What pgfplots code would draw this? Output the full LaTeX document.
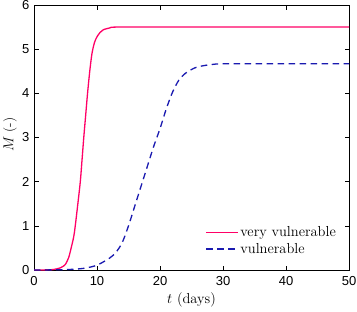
\documentclass[border=0pt]{standalone}
\usepackage{pgfplots}
\pgfplotsset{compat=1.18}
\usepackage{fontspec}
\newfontfamily\tickfont{Liberation Sans}
\definecolor{vred}{HTML}{FF0066}
\definecolor{vblue}{HTML}{1A1AB0}
\begin{document}
\begin{tikzpicture}
\begin{axis}[
  name=ax,
  scale only axis,
  width=315pt, height=265pt,
  xmin=0, xmax=50, ymin=0, ymax=6,
  xtick={0,10,20,30,40,50},
  ytick={0,1,2,3,4,5,6},
  tick align=inside,
  major tick length=4.5pt,
  axis line style={line width=0.8pt},
  every tick/.style={black, line width=0.6pt},
  ticklabel style={font=\tickfont\fontsize{13}{15}\selectfont},
  xticklabel style={yshift=-3pt},
  yticklabel style={xshift=-1pt},
  /pgf/number format/assume math mode=true,
  xlabel={$t$ (days)},
  ylabel={$M$ (-)},
  xlabel style={font=\fontsize{14.5}{16}\selectfont, at={(axis description cs:0.5,0)}, anchor=north, inner sep=0pt, yshift=-22pt},
  ylabel style={font=\fontsize{13.5}{16}\selectfont, at={(axis description cs:-0.0984,0.51)}, anchor=north, inner sep=0pt},
  legend style={draw=none, fill=none, at={(axis description cs:0.962,0.053)}, anchor=south east,
    font=\fontsize{14.5}{16}\selectfont, row sep=3pt, inner sep=0pt, nodes={inner sep=1pt}},
  legend cell align=left,
  legend image code/.code={\draw[#1,line width=1.8pt] plot coordinates {(0pt,0pt) (32pt,0pt)};},
]
\addplot[vred, line width=1.3pt, smooth] coordinates {
(0,0) (2,0.003) (3,0.01) (3.6,0.025) (4.2,0.05) (4.7,0.09) (5,0.13) (5.5,0.28) (5.9,0.5) (6.3,0.75) (6.55,1.0) (7,1.55) (7.35,2.0) (7.6,2.45) (7.9,3.0) (8.2,3.5) (8.5,4.0) (8.85,4.5) (9.2,4.9) (9.6,5.15) (10,5.28) (10.5,5.38) (11,5.44) (12,5.48) (13,5.5) (20,5.5) (50,5.5)
};
\addlegendentry{very vulnerable}
\addplot[vblue, line width=1.3pt, dash pattern=on 6.5pt off 4.5pt, smooth] coordinates {
(0,0) (4,0.005) (6,0.015) (8,0.04) (10,0.11) (12,0.27) (13,0.4) (14,0.62) (15,1.0) (16,1.45) (17,1.9) (18,2.35) (19,2.8) (20,3.2) (21,3.65) (22,4.03) (23,4.3) (24,4.45) (25,4.54) (26,4.6) (28,4.65) (30,4.67) (35,4.67) (50,4.67)
};
\addlegendentry{vulnerable}
\end{axis}
\pgfresetboundingbox
\path[use as bounding box] ([xshift=-34pt,yshift=-41pt]ax.south west) rectangle ([xshift=8pt,yshift=5pt]ax.north east);
\end{tikzpicture}
\end{document}
